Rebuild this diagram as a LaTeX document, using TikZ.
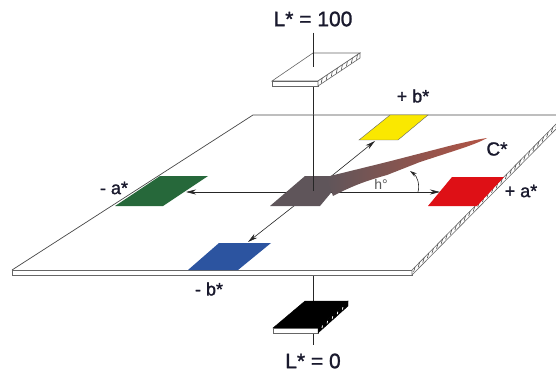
\documentclass[tikz,border=0pt]{standalone}
\usepackage{fontspec}
\setmainfont{Liberation Sans}
\newfontfamily\labfont[FakeBold=1.3]{Liberation Sans}
\usetikzlibrary{arrows.meta,calc}
\definecolor{lab}{RGB}{25,25,45}
\definecolor{pgrey}{RGB}{95,85,90}
\definecolor{pgreen}{RGB}{38,104,58}
\definecolor{pblue}{RGB}{44,84,160}
\definecolor{pred}{RGB}{222,16,22}
\definecolor{pyellow}{RGB}{250,232,0}
\definecolor{wred}{RGB}{180,84,68}
\begin{document}
\begin{tikzpicture}[x=1pt,y=-1pt,
  edge/.style={draw=black!72, line width=0.7pt, line join=round},
  band/.style={draw=black!60, line width=0.6pt, fill=white},
  axis/.style={draw=black!85, line width=0.6pt},
  arr/.style={axis,-{Stealth[length=10pt,width=5pt]}},
  tick/.style={draw=black!70, line width=0.6pt},
  lbl/.style={text=lab, inner sep=0pt, font=\labfont\fontsize{18}{18}\selectfont},
  big/.style={text=lab, inner sep=0pt, font=\labfont\fontsize{21}{21}\selectfont}]
\useasboundingbox (0,0) rectangle (556,374);
\clip (0,0) rectangle (556,374);
\fill[white] (0,0) rectangle (556,374);

% coordinates
\coordinate (O) at (313,191);
\coordinate (pA) at (12,270);
\coordinate (pB) at (412,270);
\coordinate (pC) at (565,115);
\coordinate (pD) at (253,115);
\coordinate (pA2) at (12,275);
\coordinate (pB2) at (412,275);
\coordinate (pC2) at (565,120);

% vertical axis
\coordinate (vTop) at (313,33);
\coordinate (vMid) at (313,67);
\coordinate (vPl) at (313,115);
\coordinate (vBotA) at (313,275);
\coordinate (vBotB) at (313,345);
\draw[axis] (vTop) -- (vPl);
\draw[axis] (vBotA) -- (vBotB);

% top slab
\coordinate (t1) at (272,81);
\coordinate (t2) at (318,81);
\coordinate (t3) at (360,53);
\coordinate (t4) at (313,53);
\filldraw[band] (t1) -- (t2) -- (t3) -- (t4) -- cycle;
\filldraw[band] (t1) -- ++(0,5) -- ($(t2)+(0,5)$) -- (t2) -- cycle;
\filldraw[band] (t2) -- (t3) -- ($(t3)+(0,5)$) -- ($(t2)+(0,5)$) -- cycle;
\foreach \t in {0.1,0.22,...,0.95}
  \draw[tick] ($(t2)!\t!(t3)$) -- ++(-1,5);
\draw[axis] (vTop) -- (vMid);

% black slab
\coordinate (k1) at (273,328);
\coordinate (k2) at (318,328);
\coordinate (k3) at (348,301);
\coordinate (k4) at (305,301);
\filldraw[fill=black, draw=black] (k1) -- (k2) -- (k3) -- (k4) -- cycle;
\filldraw[band] (k1) -- ++(0,5) -- ($(k2)+(0,5)$) -- (k2) -- cycle;
\filldraw[fill=black, draw=black] (k2) -- (k3) -- ($(k3)+(0,5)$) -- ($(k2)+(0,5)$) -- cycle;
\foreach \t in {0.15,0.32,...,0.9}
  \draw[white, line width=0.8pt] ($(k2)!\t!(k3)+(0,1.5)$) -- ++(-0.5,2.5);

% plane
\fill[white] (pA) -- (pB) -- (pC) -- (pD) -- cycle;
\draw[edge] (pA) -- (pD) -- (pC);
\filldraw[band] (pA) -- (pB) -- (pB2) -- (pA2) -- cycle;
\filldraw[band] (pB) -- (pC) -- (pC2) -- (pB2) -- cycle;
\foreach \t in {0.02,0.05,...,0.99}
  \draw[tick] ($(pB)!\t!(pC)$) -- ++(-1.5,5);

% patches
\fill[pgreen] (115,206) -- (163,206) -- (208,176) -- (160,176) -- cycle;
\fill[pblue] (188,270) -- (238,270) -- (271,243) -- (219,243) -- cycle;
\fill[pred] (428,206) -- (477,206) -- (504,177) -- (452,177) -- cycle;
\fill[pyellow] (359,140) -- (398,140) -- (428,115) -- (390,115) -- cycle;
\draw[black!60, line width=0.4pt] (359,140) -- (398,140) -- (428,115) -- (390,115) -- cycle;

% axis arrows
\coordinate (aM) at (186,192);
\coordinate (aP) at (440,192);
\coordinate (bP) at (375,141);
\coordinate (bM) at (248,242);
\coordinate (O2) at (313,192);
\draw[arr] (O2) -- (aM);
\draw[arr] (O2) -- (aP);
\draw[arr] (O) -- (bP);
\draw[arr] (O) -- (bM);

% grey centre
\fill[pgrey] (270,206) -- (320,206) -- (345,176) -- (305,176) -- cycle;
\draw[axis] (vPl) -- (O);

% chroma wedge
\shade[left color=pgrey, right color=wred]
  (326,177) -- (387,162) -- (453,145)
  .. controls (470,141) and (480,139) .. (487,138)
  .. controls (482,141) and (472,145) .. (460,149)
  -- (420,162) -- (387,175)
  .. controls (365,181) and (350,187) .. (333,196) -- cycle;

% hue arc
\coordinate (h1) at (418,192);
\coordinate (h2) at (410,171);
\draw[axis, -{Stealth[length=7pt,width=4pt]}] (h1) .. controls (420,184) and (417,176) .. (h2);

% labels
\node[big] (Ltop) at (313,19) {L* = 100};
\node[big] (Lbot) at (313,361) {L* = 0};
\node[lbl] (bp) at (413,96) {+ b*};
\node[lbl] (bm) at (209,289) {- b*};
\node[lbl] (am) at (114,188) {- a*};
\node[lbl] (ap) at (521,191) {+ a*};
\node[text=lab, inner sep=0pt, font=\labfont\fontsize{19}{19}\selectfont] (Cs) at (497,149) {C*};
\node[text=black!65, inner sep=0pt, font=\fontsize{14}{14}\selectfont] (hs) at (381,184) {h°};
\end{tikzpicture}
\end{document}
